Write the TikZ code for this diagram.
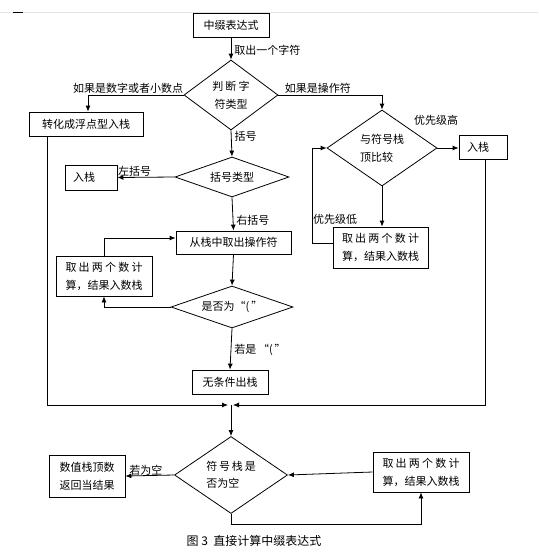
\documentclass[tikz,border=0pt]{standalone}
\usepackage{fontspec}
\setmainfont{Liberation Sans}
\newfontfamily\cjk{Noto Sans CJK SC}
\usetikzlibrary{shapes.geometric,arrows.meta}
\tikzset{
  box/.style={draw, line width=0.8pt, inner sep=0pt, font=\cjk\fontsize{11}{18}\selectfont, align=center},
  dia/.style={draw, diamond, line width=0.8pt, inner sep=0pt, font=\cjk\fontsize{11}{18}\selectfont, align=center},
  lab/.style={font=\cjk\fontsize{11}{13}\selectfont, inner sep=0pt},
  arr/.style={-{Latex[length=6pt,width=5pt]}, line width=0.8pt},
  ln/.style={line width=0.8pt}
}
\begin{document}
\begin{tikzpicture}[x=1pt,y=-1pt]
\useasboundingbox (0,0) rectangle (538,554);
\draw[black!10] (0,12) -- (538,12);
\draw[line width=0.8pt] (13,12) -- (23,12);
% nodes
\node[box, minimum width=76, minimum height=24] (a) at (231,25) {中缀表达式};
\node[dia, minimum width=94, minimum height=70, aspect=1.34] (d1) at (231,95) {\hbox to 3.4em{判\hfil 断\hfil 字}\\符类型};
\node[box, minimum width=114, minimum height=24] (b1) at (86,124) {转化成浮点型入栈};
\node[dia, minimum width=114, minimum height=40, aspect=2.8] (d2) at (232,177) {括号类型};
\node[box, minimum width=52, minimum height=25, text width=36, align=left] (b2) at (91,177.5) {入栈};
\node[dia, minimum width=110, minimum height=76, aspect=1.45, align=left] (d3) at (382,148) {与符号栈\\顶比较};
\node[box, minimum width=48, minimum height=24, text width=32, align=left] (b3) at (483,147) {入栈};
\node[box, minimum width=95, minimum height=41] (b4) at (380.5,247.5) {\hbox to 7em{取\hfil 出\hfil 两\hfil 个\hfil 数\hfil 计}\\算，结果入数栈};
\node[box, minimum width=115, minimum height=23] (b5) at (233.5,242.5) {从栈中取出操作符};
\node[dia, minimum width=122, minimum height=42, aspect=2.9] (d4) at (232,307) {是否为“(\,”};
\node[box, minimum width=96, minimum height=40] (b6) at (104,276) {\hbox to 7em{取\hfil 出\hfil 两\hfil 个\hfil 数\hfil 计}\\算，结果入数栈};
\node[box, minimum width=76, minimum height=24] (b7) at (230,382) {无条件出栈};
\coordinate (j) at (231,405);
\node[dia, minimum width=113, minimum height=77, aspect=1.47] (d5) at (231,475) {\hbox to 4.5em{符\hfil 号\hfil 栈\hfil 是}\\[-1pt]\hbox to 4.5em{否为空\hfil}};
\node[box, minimum width=76, minimum height=42] (b8) at (87,476) {数值栈顶数\\返回当结果};
\node[box, minimum width=96, minimum height=40] (b9) at (421,472) {\hbox to 7em{取\hfil 出\hfil 两\hfil 个\hfil 数\hfil 计}\\算，结果入数栈};
\node[font=\cjk\fontsize{12}{14}\selectfont, inner sep=0pt] (cap) at (254,541) {图\ 3\ \ 直接计算中缀表达式};
% connectors
\draw[arr] (a.south) -- node[lab, right=3pt, pos=0.6]{取出一个字符} (d1.north);
\draw[arr] (d1.west) -| node[lab, above=1.5pt, pos=0.29]{如果是数字或者小数点} ([xshift=2pt]b1.north);
\draw[arr] (d1.east) -| node[lab, above=1.5pt, pos=0.19]{如果是操作符} (d3.north);
\draw[arr] (d1.south) -- node[lab, right=3pt, pos=0.22]{括号} (d2.north);
\draw[arr] (d2.west) -- node[lab, above=1pt, pos=0.7]{左括号} (b2.east);
\draw[arr] (d2.south) -- node[lab, right=3pt, pos=0.68]{右括号} (b5.north);
\draw[arr] (b5.south) -- (d4.north);
\draw[arr] (d4.west) -| (b6.south);
\draw[arr] (b6.north) |- ([yshift=4.5pt]b5.west);
\draw[arr] (d4.south) -- node[lab, right=3pt, pos=0.53]{若是\,“(\,”} (b7.north);
\draw[arr, shorten >=3pt] ([xshift=-39pt]b1.south) |- (j);
\draw[arr, shorten >=2pt] ([xshift=2pt]b3.south) |- (j);
\draw[arr] (j) -- (d5.north);
\draw[arr] (d5.west) -- node[lab, above=0pt, pos=0.58]{若为空} (b8.east);
\draw[arr] (b9.west) -- (d5.east);
\draw[arr] (d5.south) -- ++(0,10) -| (b9.south);
\draw[arr] (d3.east) -- (d3.east -| b3.west);
\node[lab] at (436,120) {优先级高};
\draw[arr] (d3.south) -- (d3.south |- b4.north);
\draw[arr] ([yshift=4.5pt]b4.west) -- ++(-20,0) |- (d3.west);
\node[lab] at (335,219) {优先级低};
\end{tikzpicture}
\end{document}
